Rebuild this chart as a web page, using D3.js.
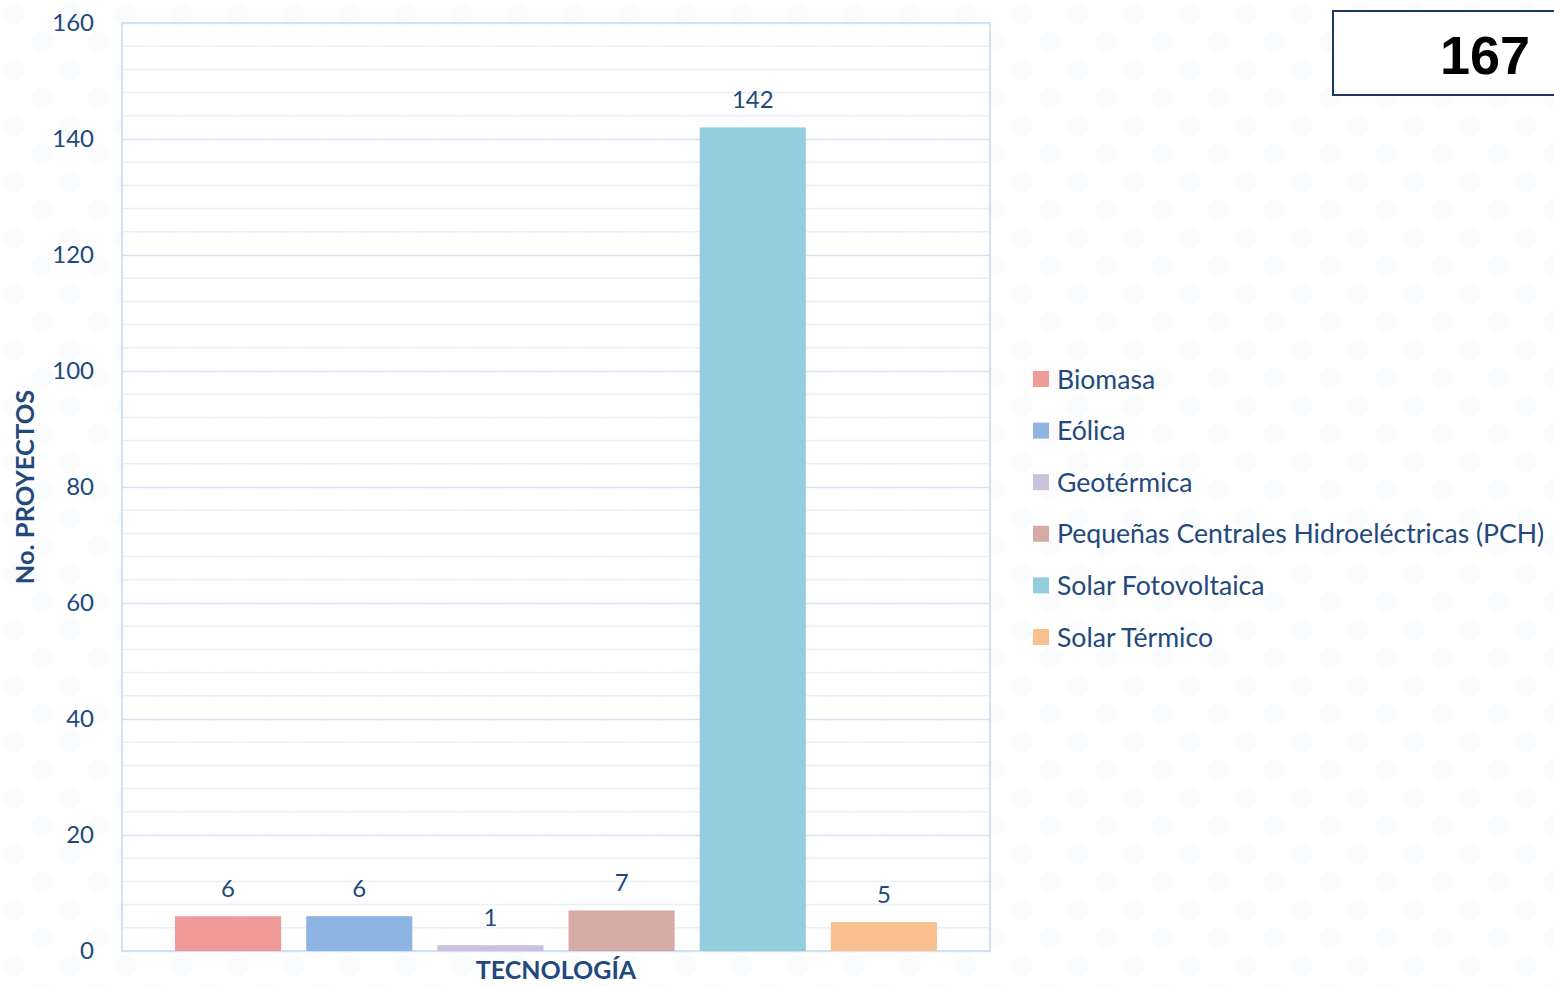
<!DOCTYPE html>
<html>
<head>
<meta charset="utf-8">
<script src="https://cdn.jsdelivr.net/npm/d3@7"></script>
<style>
  html, body { margin: 0; padding: 0; background: #ffffff; }
  svg { display: block; font-family: Lato, "Open Sans", sans-serif; }
</style>
</head>
<body>
<svg id="chart" width="1554" height="986"></svg>
<script>
const categories = ["Biomasa", "Eólica", "Geotérmica", "Pequeñas Centrales Hidroeléctricas (PCH)", "Solar Fotovoltaica", "Solar Térmico"];
const values = [6, 6, 1, 7, 142, 5];
const colors = ["#F09A9A", "#8EB4E3", "#CCC1DA", "#D5ACA5", "#94CDDD", "#FAC090"];
const yTicks = [0, 20, 40, 60, 80, 100, 120, 140, 160];
const total = 167;
const yTitle = "No. PROYECTOS";
const xTitle = "TECNOLOGÍA";

const svg = d3.select("#chart");
const textColor = "#23497C";

const plot = {left: 122, right: 990, top: 23, bottom: 951};
const y = d3.scaleLinear().domain([0, 160]).range([plot.bottom, plot.top]);
const x = d3.scaleBand().domain(categories).range([175, 937]).paddingInner(25/131).paddingOuter(0);

// very subtle background dot pattern
const defs = svg.append("defs");
const pat = defs.append("pattern").attr("id", "dots").attr("width", 56).attr("height", 56).attr("patternUnits", "userSpaceOnUse");
pat.append("circle").attr("cx", 14).attr("cy", 14).attr("r", 11).attr("fill", "#f7f8fa");
pat.append("circle").attr("cx", 42).attr("cy", 42).attr("r", 11).attr("fill", "#f7f8fa");
svg.append("rect").attr("width", 1554).attr("height", 986).attr("fill", "url(#dots)").attr("opacity", 0.6);

// plot area background
svg.append("rect").attr("x", plot.left).attr("y", plot.top)
  .attr("width", plot.right - plot.left).attr("height", plot.bottom - plot.top)
  .attr("fill", "#ffffff").attr("fill-opacity", 0.7);

// minor gridlines
const minor = d3.range(4, 160, 4).filter(v => v % 20 !== 0);
svg.append("g").selectAll("line").data(minor).join("line")
  .attr("x1", plot.left).attr("x2", plot.right)
  .attr("y1", d => y(d)).attr("y2", d => y(d))
  .attr("stroke", "#EAF0F8").attr("stroke-width", 1.5);

// major gridlines via axis
const gridAxis = d3.axisLeft(y).tickValues(yTicks).tickSize(-(plot.right - plot.left)).tickFormat("");
const gg = svg.append("g").attr("transform", `translate(${plot.left},0)`).call(gridAxis);
gg.select(".domain").remove();
gg.selectAll("line").attr("stroke", "#D5E2F2").attr("stroke-width", 1.5);

// plot border
svg.append("rect").attr("x", plot.left).attr("y", plot.top)
  .attr("width", plot.right - plot.left).attr("height", plot.bottom - plot.top)
  .attr("fill", "none").attr("stroke", "#D3E0F1").attr("stroke-width", 2);

// y axis labels
const yAxis = d3.axisLeft(y).tickValues(yTicks).tickSize(0).tickPadding(28);
const ya = svg.append("g").attr("transform", `translate(${plot.left},0)`).call(yAxis);
ya.select(".domain").remove();
ya.selectAll("text").attr("fill", textColor).style("font-size", "24px")
  .style("font-family", "Lato, 'Open Sans', sans-serif");

// bars
svg.append("g").selectAll("rect").data(categories).join("rect")
  .attr("x", d => x(d)).attr("width", x.bandwidth())
  .attr("y", (d, i) => y(values[i])).attr("height", (d, i) => y(0) - y(values[i]))
  .attr("fill", (d, i) => colors[i]);

// value labels
svg.append("g").selectAll("text").data(categories).join("text")
  .attr("x", d => x(d) + x.bandwidth() / 2)
  .attr("y", (d, i) => y(values[i]) - 19)
  .attr("text-anchor", "middle").attr("fill", textColor)
  .style("font-size", "24px")
  .text((d, i) => values[i]);

// axis titles
svg.append("text").attr("transform", `translate(34,487) rotate(-90)`)
  .attr("text-anchor", "middle").attr("fill", textColor)
  .style("font-size", "25.5px").style("font-weight", "bold").text(yTitle);
svg.append("text").attr("x", 556).attr("y", 979)
  .attr("text-anchor", "middle").attr("fill", textColor)
  .style("font-size", "25px").style("font-weight", "bold").text(xTitle);

// legend
const lg = svg.append("g");
const rowY = d3.scalePoint().domain(categories).range([379, 637]);
lg.selectAll("rect").data(categories).join("rect")
  .attr("x", 1033).attr("y", d => rowY(d) - 8).attr("width", 16).attr("height", 16)
  .attr("fill", (d, i) => colors[i]);
lg.selectAll("text").data(categories).join("text")
  .attr("x", 1057).attr("y", d => rowY(d) + 9.5)
  .attr("fill", textColor).style("font-size", "26.6px").text(d => d);

// total box
svg.append("rect").attr("x", 1333).attr("y", 11).attr("width", 240).attr("height", 84)
  .attr("fill", "#ffffff").attr("stroke", "#1F3864").attr("stroke-width", 2);
svg.append("text").attr("x", 1530).attr("y", 74).attr("text-anchor", "end")
  .attr("fill", "#000000").style("font-family", "'Liberation Sans', Arial, sans-serif")
  .style("font-size", "54px").style("font-weight", "bold").text(total);
</script>
</body>
</html>
